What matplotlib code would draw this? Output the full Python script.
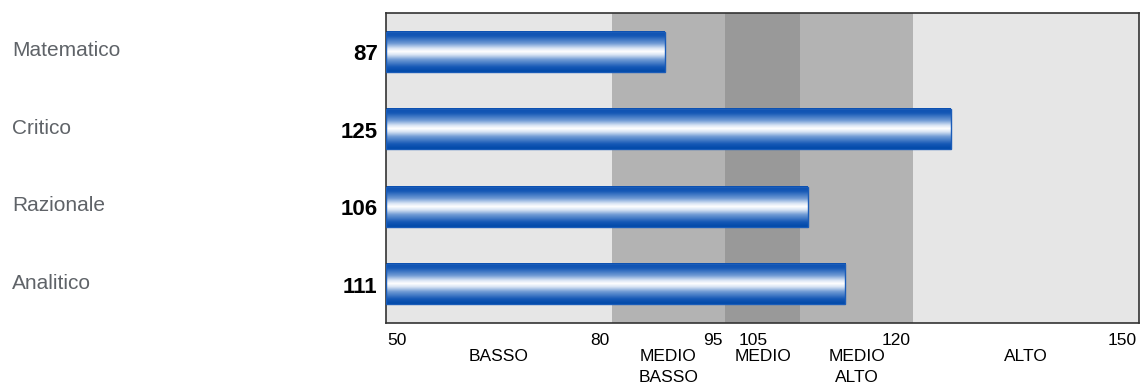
import matplotlib.pyplot as plt
import numpy as np
from matplotlib.colors import LinearSegmentedColormap

categorie = ["Matematico", "Critico", "Razionale", "Analitico"]
punteggi = [87, 125, 106, 111]

fasce_inizio = [50, 80, 95, 105, 120]
fasce_fine = [80, 95, 105, 120, 150]
fasce_nomi = ["BASSO", "MEDIO\nBASSO", "MEDIO", "MEDIO\nALTO", "ALTO"]
fasce_colori = ["#e6e6e6", "#b3b3b3", "#999999", "#b3b3b3", "#e6e6e6"]
tick_valori = [50, 80, 95, 105, 120, 150]

plt.rcParams['font.family'] = ['Liberation Sans', 'DejaVu Sans']

fig = plt.figure(figsize=(11.4, 3.85), dpi=100)
ax = fig.add_axes([386 / 1140, 62 / 385, 753 / 1140, 310 / 385])

xmin, xmax = 50, 150
n = len(categorie)

# fasce di sfondo
for a, b, c in zip(fasce_inizio, fasce_fine, fasce_colori):
    ax.axvspan(a, b, color=c, zorder=0, lw=0)

# barre con sfumatura a cilindro
cmap = LinearSegmentedColormap.from_list("cil", [
    (0.0, "#0a4fb0"), (0.12, "#1558b6"), (0.3, "#6f9ad4"), (0.42, "#d8e4f4"), (0.5, "#ffffff"),
    (0.58, "#d8e4f4"), (0.7, "#6f9ad4"), (0.88, "#1558b6"), (1.0, "#0048a8")])
grad = np.linspace(0, 1, 200).reshape(-1, 1)
h = 0.52
for i, v in enumerate(punteggi):
    ax.imshow(grad, cmap=cmap, aspect='auto', extent=(xmin, v, i + h / 2, i - h / 2), zorder=2, interpolation='bilinear')
    ax.add_patch(plt.Rectangle((xmin, i - h / 2), v - xmin, h, fill=False, ec="#1a5cb8", lw=1.0, zorder=3))
    ax.annotate(str(v), xy=(0, i), xycoords=('axes fraction', 'data'), xytext=(-6, -2), textcoords='offset points',
                ha='right', va='center', fontsize=16, fontweight='bold', color='black')
    fig.text(12 / 1140, 1 - (13 + (i + 0.5) * 77.5 - 1) / 385, categorie[i], ha='left', va='center', fontsize=15, color='#5f6368')

ax.set_xlim(xmin, xmax)
ax.set_ylim(n - 0.5, -0.5)
ax.set_xticks([])
ax.set_yticks([])
for s in ax.spines.values():
    s.set_color('#333333')
    s.set_linewidth(1.2)

# etichette numeriche dei limiti
trans = ax.get_xaxis_transform()
for t in tick_valori:
    if t == xmin:
        ax.text(t + 0.2, -0.055, str(t), transform=trans, ha='left', va='center', fontsize=12.5)
    elif t == 105:
        ax.text(t - 4.3, -0.055, str(t), transform=trans, ha='right', va='center', fontsize=12.5)
    else:
        ax.text(t - 0.3, -0.055, str(t), transform=trans, ha='right', va='center', fontsize=12.5)

# nomi delle fasce
for a, b, nome in zip(fasce_inizio, fasce_fine, fasce_nomi):
    ax.text((a + b) / 2, -0.083, nome, transform=trans, ha='center', va='top', fontsize=12.5, linespacing=1.55)

fig.savefig("out.png", dpi=100)
